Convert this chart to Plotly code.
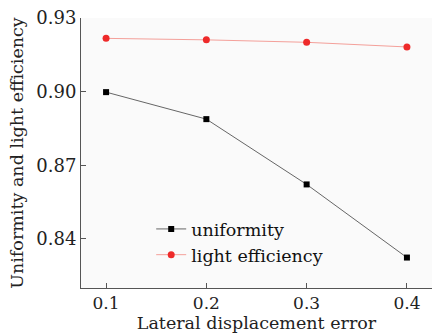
import plotly.graph_objects as go

x_vals = [0.1, 0.2, 0.3, 0.4]
uniformity = [0.8998, 0.8888, 0.8622, 0.8324]
light_eff = [0.9217, 0.9211, 0.9201, 0.9182]
y_ticks = [0.84, 0.87, 0.90, 0.93]
y_tick_labels = ["0.84", "0.87", "0.90", "0.93"]
x_ticks = [0.1, 0.2, 0.3, 0.4]
x_tick_labels = ["0.1", "0.2", "0.3", "0.4"]

font_family = "DejaVu Serif"

fig = go.Figure()
fig.add_trace(go.Scatter(
    x=x_vals, y=uniformity, mode="lines+markers", name="uniformity",
    line=dict(color="#666666", width=1),
    marker=dict(symbol="square", size=6, color="black"),
))
fig.add_trace(go.Scatter(
    x=x_vals, y=light_eff, mode="lines+markers", name="light efficiency",
    line=dict(color="#f4a09a", width=1),
    marker=dict(symbol="circle", size=7, color="#ee2a2a"),
))

fig.update_layout(
    width=435, height=333,
    margin=dict(l=81, r=3, t=18, b=45),
    paper_bgcolor="white",
    plot_bgcolor="#fafafa",
    font=dict(family=font_family, size=18, color="#222222"),
    showlegend=True,
    legend=dict(
        x=0.2, y=0.285, xanchor="left", yanchor="top",
        bgcolor="rgba(0,0,0,0)", borderwidth=0,
        font=dict(family=font_family, size=17.5, color="#111111"),
        itemwidth=30, tracegroupgap=0,
    ),
    xaxis=dict(
        range=[0.075, 0.425],
        tickvals=x_ticks, ticktext=x_tick_labels,
        showgrid=False, zeroline=False,
        showline=True, linecolor="#555555", linewidth=1,
        ticks="inside", ticklen=5, tickcolor="#555555",
        title=dict(text="Lateral displacement error", standoff=2,
                   font=dict(family=font_family, size=17.5)),
        tickfont=dict(family=font_family, size=17),
    ),
    yaxis=dict(
        range=[0.82, 0.93],
        tickvals=y_ticks, ticktext=y_tick_labels,
        showgrid=False, zeroline=False,
        showline=True, linecolor="#555555", linewidth=1,
        ticks="inside", ticklen=5, tickcolor="#555555",
        title=dict(text="Uniformity and light efficiency", standoff=8,
                   font=dict(family=font_family, size=17.5)),
        tickfont=dict(family=font_family, size=18),
    ),
)

fig.write_html("out.html")
